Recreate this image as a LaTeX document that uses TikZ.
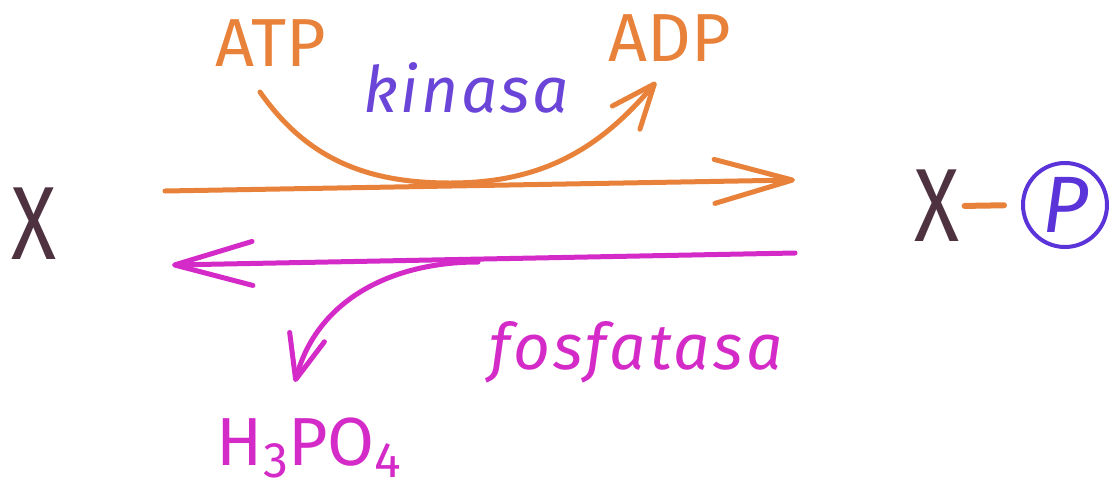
\documentclass[tikz,border=0pt]{standalone}
\usepackage{fontspec}
\setmainfont{Fira Sans}
\usetikzlibrary{arrows.meta}
\definecolor{orng}{HTML}{E8813A}
\definecolor{kviol}{HTML}{6A45D8}
\definecolor{mgnt}{HTML}{D42AC8}
\definecolor{xdark}{HTML}{4E3240}
\definecolor{pblue}{HTML}{5A33D9}
\tikzset{
  bigarrow/.style={line width=5pt, line cap=round, -{Straight Barb[length=78pt,width=44pt,round]}},
  smallarrow/.style={line width=5pt, line cap=round, -{Straight Barb[length=44pt,width=36pt,round]}},
  lbl/.style={inner sep=0pt, font=\fontsize{68}{70}\selectfont},
  xlbl/.style={inner sep=0pt, text=xdark, xscale=0.8, transform shape, font=\fontsize{104}{106}\selectfont},
}
\begin{document}
\begin{tikzpicture}[x=1pt,y=-1pt]
\useasboundingbox (0,0) rectangle (1109,491);
% molecules
\node[xlbl] (X) at (34,224) {X};
\node[xlbl] (Xr) at (937,206) {X};
\node[circle, draw=pblue, line width=4pt, minimum size=84pt, inner sep=0pt,
      text=pblue, font=\fontsize{80}{82}\selectfont\itshape] (P) at (1065,205) {P};
\draw[orng, line width=6pt, line cap=round, shorten <=5pt, shorten >=17pt] (Xr.east) -- (P.west);
% labels
\node[lbl, text=orng] (ATP) at (271,43) {ATP};
\node[lbl, text=orng] (ADP) at (670,38) {ADP};
\node[inner sep=0pt, text=kviol, font=\fontsize{64}{66}\selectfont\itshape\addfontfeatures{LetterSpace=4}] (kin) at (466,88) {kinasa};
\node[inner sep=0pt, text=mgnt, font=\fontsize{64}{66}\selectfont\itshape\addfontfeatures{LetterSpace=5}] (fos) at (636,352) {fosfatasa};
\node[lbl, text=mgnt, anchor=base] (H) at (309,465) {H\raisebox{-12pt}{\fontsize{50}{52}\selectfont 3}PO\raisebox{-12pt}{\fontsize{50}{52}\selectfont 4}};
% coordinates
\coordinate (oL) at (165,191);
\coordinate (oR) at (795,180);
\coordinate (mR) at (795,253);
\coordinate (mL) at (172,265);
\coordinate (atpS) at (260,92);
\coordinate (atpB) at (450,183);
\coordinate (adpT) at (656,82);
\coordinate (mJ) at (478,262);
\coordinate (hT) at (295,382);
% forward (kinase) reaction
\draw[orng, bigarrow] (oL) -- (oR);
\draw[orng, smallarrow] (atpS) to[out=-55,in=180] (atpB) to[out=0,in=-130] (adpT);
% reverse (phosphatase) reaction
\draw[mgnt, bigarrow] (mR) -- (mL);
\draw[mgnt, smallarrow] (mJ) to[out=180,in=75] (hT);
\end{tikzpicture}
\end{document}
